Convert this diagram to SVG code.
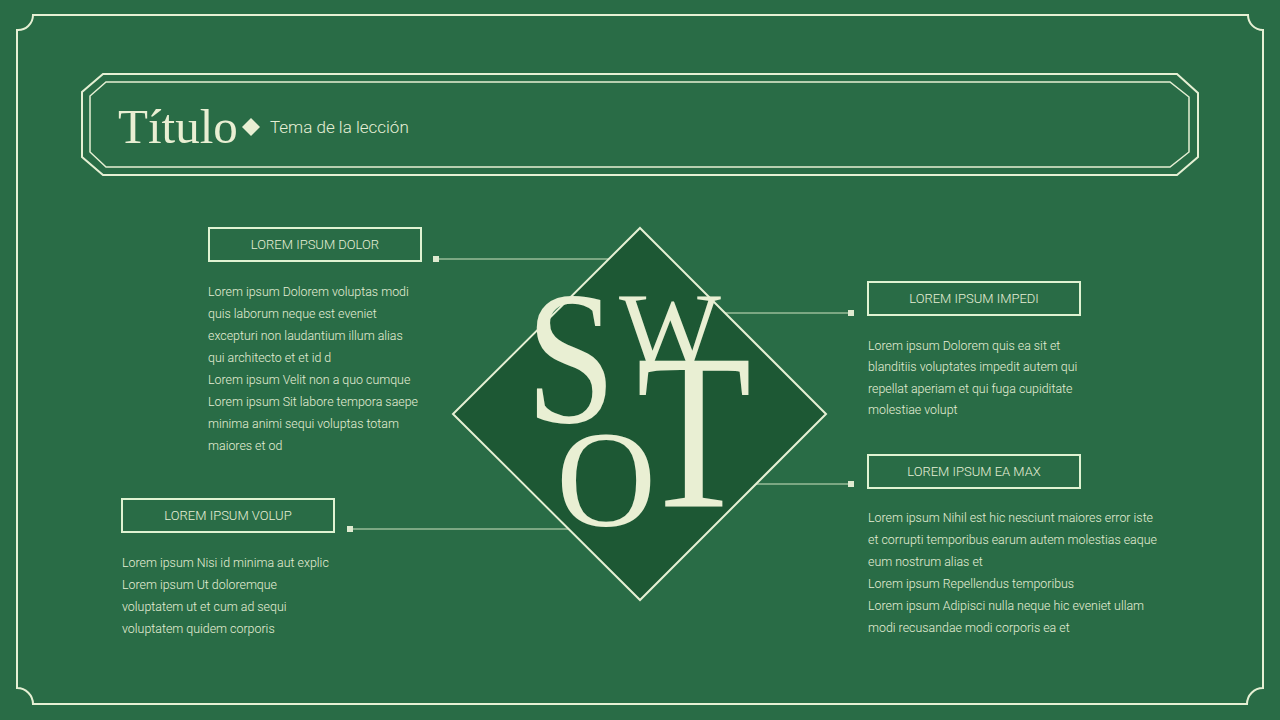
<svg xmlns="http://www.w3.org/2000/svg" width="1280" height="720" viewBox="0 0 1280 720">
<style>
.ln{fill:none;stroke:#e6f0d4;stroke-width:2}
.thin{fill:none;stroke:#cfe3c0;stroke-width:1}
.box{fill:none;stroke:#dff3d2;stroke-width:2}
.lbl{font-family:Roboto,"Liberation Sans",sans-serif;font-weight:300;font-size:13px;fill:#e6efd6;text-anchor:middle}
.body{font-family:Roboto,"Liberation Sans",sans-serif;font-weight:300;font-size:12.4px;fill:#e6efd6}
.big{font-family:"Liberation Serif","DejaVu Serif",serif;fill:#e9efd3;text-anchor:middle}
.sq{fill:#dfead0}
</style>
<rect width="1280" height="720" fill="#296c46"/>
<g id="frame">
<path class="ln" d="M33,15 H1248 A15,15 0 0 0 1263,30 V688 A16,16 0 0 0 1247,704 H33 A16,16 0 0 0 17,688 V30 A15,15 0 0 0 33,15 Z"/>
</g>
<g id="header">
<path class="ln" d="M103,74 H1177 L1198,93 V157 L1177,175 H103 L82,157 V92 Z"/>
<path class="ln" d="M106,82 H1170 L1189,97 V152 L1170,167 H106 L90,152 V96 Z" style="stroke-width:1.5"/>
<text x="118" y="143" style="font-family:'Liberation Serif','DejaVu Serif',serif;font-size:49px;fill:#e9efd3">Título</text>
<path d="M251,118 L260,127 L251,136 L242,127 Z" fill="#e9efd3"/>
<text x="270" y="133" style="font-family:Roboto,'Liberation Sans',sans-serif;font-weight:300;font-size:17px;fill:#e6efd6">Tema de la lección</text>
</g>
<g id="connectors">
<line class="thin" x1="436" y1="259" x2="609" y2="259"/>
<rect class="sq" x="433" y="256" width="6" height="6"/>
<line class="thin" x1="725" y1="313" x2="851" y2="313"/>
<rect class="sq" x="848" y="310" width="6" height="6"/>
<line class="thin" x1="756" y1="484" x2="851" y2="484"/>
<rect class="sq" x="848" y="481" width="6" height="6"/>
<line class="thin" x1="350" y1="529" x2="568" y2="529"/>
<rect class="sq" x="347" y="526" width="6" height="6"/>
</g>
<g id="swot">
<path d="M640,228 L826,414 L640,600 L453,414 Z" fill="#1d5834" stroke="#e6f0d4" stroke-width="2"/>
<text class="big" transform="translate(571,422) scale(0.85,1)" style="font-size:190px">S</text>
<text class="big" x="670" y="367" style="font-size:108px">W</text>
<text class="big" transform="translate(694,507) scale(0.85,1)" style="font-size:222px">T</text>
<text class="big" x="606" y="526" style="font-size:138px">O</text>
</g>
<g id="node-s">
<rect class="box" x="209" y="228" width="212" height="33"/>
<text class="lbl" x="315" y="249">LOREM IPSUM DOLOR</text>
<text class="body">
<tspan x="208" y="296">Lorem ipsum Dolorem voluptas modi</tspan>
<tspan x="208" y="318">quis laborum neque est eveniet</tspan>
<tspan x="208" y="340">excepturi non laudantium illum alias</tspan>
<tspan x="208" y="362">qui architecto et et id d</tspan>
<tspan x="208" y="384">Lorem ipsum Velit non a quo cumque</tspan>
<tspan x="208" y="406">Lorem ipsum Sit labore tempora saepe</tspan>
<tspan x="208" y="428">minima animi sequi voluptas totam</tspan>
<tspan x="208" y="450">maiores et od</tspan>
</text>
</g>
<g id="node-w">
<rect class="box" x="868" y="282" width="212" height="33"/>
<text class="lbl" x="974" y="303">LOREM IPSUM IMPEDI</text>
<text class="body">
<tspan x="868" y="350">Lorem ipsum Dolorem quis ea sit et</tspan>
<tspan x="868" y="371">blanditiis voluptates impedit autem qui</tspan>
<tspan x="868" y="393">repellat aperiam et qui fuga cupiditate</tspan>
<tspan x="868" y="414">molestiae volupt</tspan>
</text>
</g>
<g id="node-t">
<rect class="box" x="868" y="455" width="212" height="33"/>
<text class="lbl" x="974" y="476">LOREM IPSUM EA MAX</text>
<text class="body">
<tspan x="868" y="522">Lorem ipsum Nihil est hic nesciunt maiores error iste</tspan>
<tspan x="868" y="544">et corrupti temporibus earum autem molestias eaque</tspan>
<tspan x="868" y="566">eum nostrum alias et</tspan>
<tspan x="868" y="588">Lorem ipsum Repellendus temporibus</tspan>
<tspan x="868" y="610">Lorem ipsum Adipisci nulla neque hic eveniet ullam</tspan>
<tspan x="868" y="632">modi recusandae modi corporis ea et</tspan>
</text>
</g>
<g id="node-o">
<rect class="box" x="122" y="499" width="212" height="33"/>
<text class="lbl" x="228" y="520">LOREM IPSUM VOLUP</text>
<text class="body">
<tspan x="122" y="567">Lorem ipsum Nisi id minima aut explic</tspan>
<tspan x="122" y="589">Lorem ipsum Ut doloremque</tspan>
<tspan x="122" y="611">voluptatem ut et cum ad sequi</tspan>
<tspan x="122" y="633">voluptatem quidem corporis</tspan>
</text>
</g>
</svg>
